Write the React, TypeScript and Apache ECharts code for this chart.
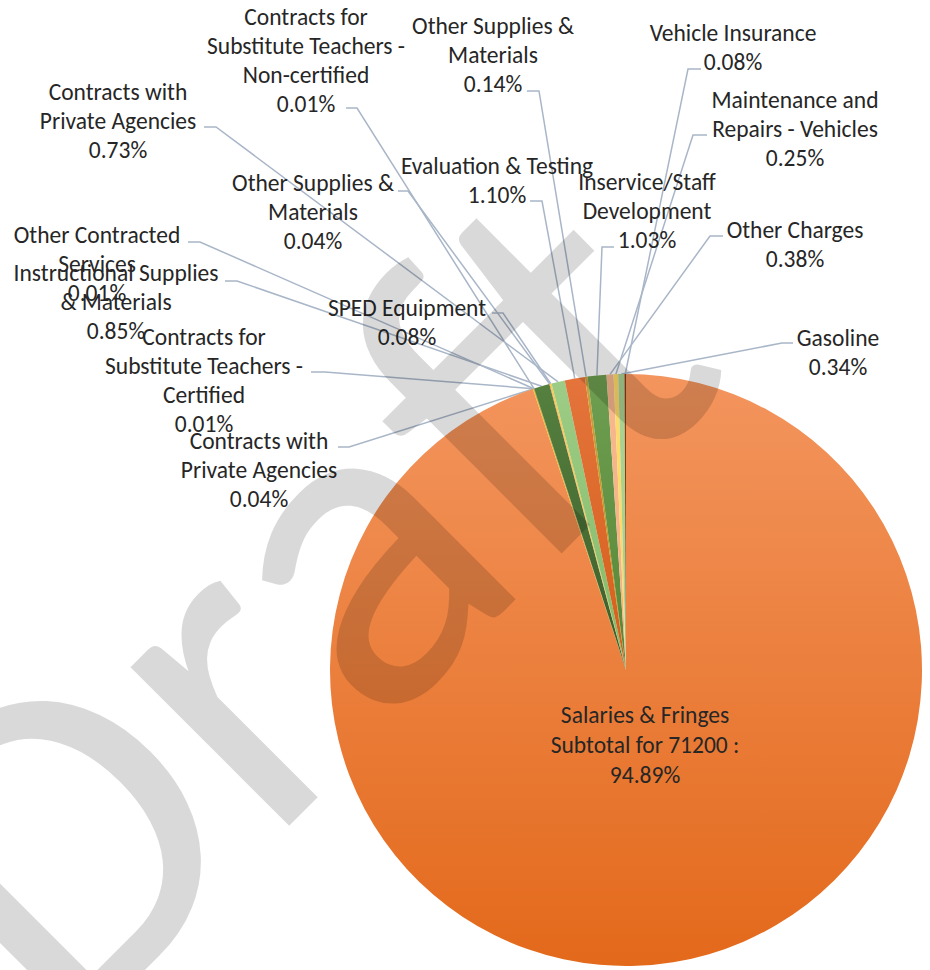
import React, { useEffect, useRef } from "react";
import * as echarts from "echarts";

// ---- data (clockwise from 12 o'clock) ----
const categories: string[] = [
  "Salaries & Fringes Subtotal for 71200 :",
  "Contracts with Private Agencies",
  "Contracts for Substitute Teachers - Certified",
  "Other Contracted Services",
  "Contracts for Substitute Teachers - Non-certified",
  "Instructional Supplies & Materials",
  "Other Supplies & Materials",
  "SPED Equipment",
  "Contracts with Private Agencies",
  "Evaluation & Testing",
  "Other Supplies & Materials",
  "Inservice/Staff Development",
  "Other Charges",
  "Maintenance and Repairs - Vehicles",
  "Gasoline",
  "Vehicle Insurance",
];
const percentages: number[] = [
  94.89, 0.04, 0.01, 0.01, 0.01, 0.85, 0.04, 0.08, 0.73, 1.1, 0.14, 1.03, 0.38,
  0.25, 0.34, 0.08,
];

// ---- styles ----
const sliceColors: [string, string][] = [
  ["#F3955E", "#E3691B"],
  ["#FFC000", "#FFC000"],
  ["#70AD47", "#70AD47"],
  ["#9E480E", "#9E480E"],
  ["#997300", "#997300"],
  ["#55803F", "#3B5D2A"],
  ["#F1975A", "#F1975A"],
  ["#F7CC4A", "#F2C232"],
  ["#9DCC86", "#83BA66"],
  ["#E4743C", "#D55F1A"],
  ["#CBA13E", "#BF9000"],
  ["#6E9E51", "#578636"],
  ["#F6B88E", "#F4B183"],
  ["#FFDA6A", "#FFD966"],
  ["#ABD290", "#A9D18E"],
  ["#843C0C", "#843C0C"],
];

// ---- label layout: centre, wrap width (chars), leader attach point and bend x ----
const labelLayouts = [
  { cx: 645, cy: 745, wrap: 20, ax: 0, ay: 0, bx: 0 },
  { cx: 259, cy: 470, wrap: 16, ax: 338, ay: 447, bx: 349 },
  { cx: 204, cy: 380, wrap: 21, ax: 311, ay: 372, bx: 325 },
  { cx: 97, cy: 264, wrap: 16, ax: 188, ay: 242, bx: 200 },
  { cx: 306, cy: 60, wrap: 21, ax: 346, ay: 108, bx: 357 },
  { cx: 116, cy: 302, wrap: 22, ax: 225, ay: 281, bx: 237 },
  { cx: 313, cy: 212, wrap: 16, ax: 398, ay: 191, bx: 408 },
  { cx: 407, cy: 322, wrap: 16, ax: 492, ay: 313, bx: 503 },
  { cx: 118, cy: 121, wrap: 16, ax: 204, ay: 127, bx: 216 },
  { cx: 497, cy: 180, wrap: 20, ax: 530, ay: 201, bx: 542 },
  { cx: 493, cy: 55, wrap: 16, ax: 527, ay: 91, bx: 539 },
  { cx: 647, cy: 211, wrap: 15, ax: 614, ay: 247, bx: 602 },
  { cx: 795, cy: 244, wrap: 16, ax: 723, ay: 236, bx: 710 },
  { cx: 795, cy: 129, wrap: 18, ax: 707, ay: 135, bx: 693 },
  { cx: 838, cy: 352, wrap: 16, ax: 793, ay: 343, bx: 782 },
  { cx: 733, cy: 47, wrap: 17, ax: 701, ay: 69, bx: 688 },
];

const PIE_CX = 626;
const PIE_CY = 670;
const PIE_R = 296;
const FONT = "Carlito, Calibri, Lato, sans-serif";

function wrapText(s: string, max: number): string {
  const words = s.split(" ");
  const lines: string[] = [];
  let cur = "";
  for (const w of words) {
    const next = cur ? cur + " " + w : w;
    if (next.length > max && cur) {
      lines.push(cur);
      cur = w;
    } else {
      cur = next;
    }
  }
  if (cur) lines.push(cur);
  return lines.join("\n");
}

export default function App() {
  const ref = useRef<HTMLDivElement>(null);

  useEffect(() => {
    if (!ref.current) return;
    const chart = echarts.init(ref.current, null, { renderer: "svg" });
    const total = percentages.reduce((a, b) => a + b, 0);
    const cumulative: number[] = [];
    let acc = 0;
    percentages.forEach((v) => {
      cumulative.push(acc);
      acc += v;
    });

    const arcPoint = (i: number): number[] => {
      const mid = cumulative[i] + percentages[i] / 2;
      const theta = (mid / total) * Math.PI * 2;
      return [PIE_CX + PIE_R * Math.sin(theta), PIE_CY - PIE_R * Math.cos(theta)];
    };

    const data = categories.map((name, i) => ({
      name,
      value: percentages[i],
      itemStyle: {
        color: new echarts.graphic.LinearGradient(0, 0, 0, 1, [
          { offset: 0, color: sliceColors[i][0] },
          { offset: 1, color: sliceColors[i][1] },
        ]),
      },
      label: i === 0 ? { position: "inside", lineHeight: 30 } : { position: "outside" },
      labelLine: { show: i !== 0 },
    }));

    chart.setOption({
      animation: false,
      backgroundColor: "#ffffff",
      series: [
        {
          type: "pie",
          center: [PIE_CX, PIE_CY],
          radius: PIE_R,
          startAngle: 90,
          clockwise: true,
          avoidLabelOverlap: false,
          silent: true,
          data,
          itemStyle: { borderWidth: 0 },
          label: {
            show: true,
            color: "#262626",
            fontFamily: FONT,
            fontSize: 23.5,
            lineHeight: 29,
            align: "center",
            formatter: (p: any) =>
              wrapText(categories[p.dataIndex], labelLayouts[p.dataIndex].wrap) +
              "\n" +
              percentages[p.dataIndex].toFixed(2) +
              "%",
          },
          labelLine: {
            show: true,
            lineStyle: { color: "#A9B6C8", width: 1.5 },
          },
          labelLayout: (params: any) => {
            const i = params.dataIndex;
            const L = labelLayouts[i];
            const out: any = {
              x: L.cx,
              y: L.cy,
              align: "center",
              verticalAlign: "middle",
            };
            if (i !== 0) {
              out.labelLinePoints = [arcPoint(i), [L.bx, L.ay], [L.ax, L.ay]];
            }
            return out;
          },
        },
      ],
      graphic: [
        {
          type: "text",
          x: -50,
          y: 938,
          rotation: Math.PI / 4,
          z: 100,
          silent: true,
          style: {
            text: "Draft",
            fontFamily: FONT,
            fontSize: 470,
            fill: "rgba(0,0,0,0.15)",
            align: "left",
            verticalAlign: "middle",
          },
        },
      ],
    });
    return () => chart.dispose();
  }, []);

  return (
    <div
      ref={ref}
      style={{ position: "fixed", left: 0, top: 0, width: 930, height: 970, background: "#fff" }}
    />
  );
}
